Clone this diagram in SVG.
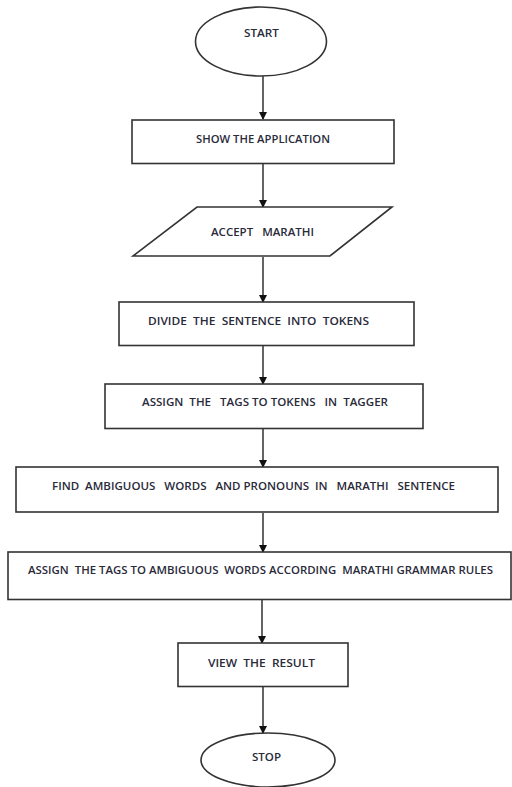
<svg xmlns="http://www.w3.org/2000/svg" width="512" height="787" viewBox="0 0 512 787">
<style>
.n{fill:#fff;stroke:#333;stroke-width:1.6}
.t{font-family:"Open Sans","Liberation Sans",sans-serif;font-size:10.5px;font-weight:600;fill:#2a2a3a;white-space:pre}
.c{stroke:#111;stroke-width:1.3;fill:none;marker-end:url(#ah)}
</style>
<defs>
<marker id="ah" markerWidth="8" markerHeight="10" refX="7" refY="4" orient="auto" markerUnits="userSpaceOnUse" viewBox="0 0 8 8">
<path d="M0,0 L8,4 L0,8 Z" fill="#111"/>
</marker>
</defs>
<g id="connectors">
<line class="c" x1="263" y1="76" x2="263" y2="119"/>
<line class="c" x1="263" y1="164" x2="263" y2="207"/>
<line class="c" x1="263" y1="257" x2="263" y2="302"/>
<line class="c" x1="263" y1="346" x2="263" y2="384"/>
<line class="c" x1="263" y1="429" x2="263" y2="467"/>
<line class="c" x1="263" y1="513" x2="263" y2="552"/>
<line class="c" x1="262" y1="600" x2="262" y2="643"/>
<line class="c" x1="263" y1="687" x2="263" y2="733"/>
</g>
<g id="start">
<ellipse class="n" cx="261" cy="41.5" rx="65.5" ry="34.5"/>
<text class="t" x="261.5" y="37" text-anchor="middle" textLength="35" lengthAdjust="spacingAndGlyphs">START</text>
</g>
<g id="show">
<rect class="n" x="132" y="120" width="262" height="43.5"/>
<text class="t" x="263" y="143" text-anchor="middle" textLength="134" lengthAdjust="spacingAndGlyphs">SHOW THE APPLICATION</text>
</g>
<g id="accept">
<polygon class="n" points="197,207 392,207 330,256 133,256"/>
<text class="t" x="262.5" y="236" text-anchor="middle" textLength="103" lengthAdjust="spacingAndGlyphs">ACCEPT   MARATHI</text>
</g>
<g id="divide">
<rect class="n" x="119" y="302" width="295" height="43.5"/>
<text class="t" x="258.5" y="325" text-anchor="middle" textLength="221" lengthAdjust="spacingAndGlyphs">DIVIDE  THE  SENTENCE  INTO  TOKENS</text>
</g>
<g id="tagger">
<rect class="n" x="105" y="384" width="318" height="44.5"/>
<text class="t" x="265" y="406" text-anchor="middle" textLength="246" lengthAdjust="spacingAndGlyphs">ASSIGN  THE   TAGS TO TOKENS   IN  TAGGER</text>
</g>
<g id="find">
<rect class="n" x="16" y="467" width="482" height="45"/>
<text class="t" x="253.5" y="490" text-anchor="middle" textLength="403" lengthAdjust="spacingAndGlyphs">FIND  AMBIGUOUS   WORDS   AND PRONOUNS  IN   MARATHI   SENTENCE</text>
</g>
<g id="grammar">
<rect class="n" x="8" y="552" width="503" height="47.5"/>
<text class="t" x="260.5" y="574" text-anchor="middle" textLength="465" lengthAdjust="spacingAndGlyphs">ASSIGN  THE TAGS TO AMBIGUOUS  WORDS ACCORDING  MARATHI GRAMMAR RULES</text>
</g>
<g id="view">
<rect class="n" x="178" y="643" width="170" height="43.5"/>
<text class="t" x="261.5" y="667" text-anchor="middle" textLength="107" lengthAdjust="spacingAndGlyphs">VIEW  THE  RESULT</text>
</g>
<g id="stop">
<ellipse class="n" cx="268" cy="760" rx="67" ry="27"/>
<text class="t" x="266.5" y="761" text-anchor="middle" textLength="29" lengthAdjust="spacingAndGlyphs">STOP</text>
</g>
</svg>
